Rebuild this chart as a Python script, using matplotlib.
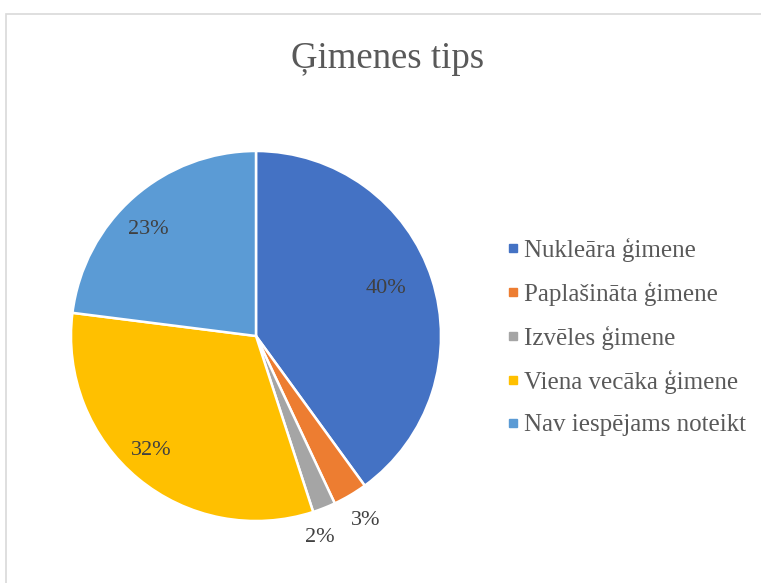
import numpy as np
import matplotlib.pyplot as plt
from matplotlib.lines import Line2D
from matplotlib.patches import Rectangle

labels = ['Nukleāra ģimene', 'Paplašināta ģimene', 'Izvēles ģimene',
          'Viena vecāka ģimene', 'Nav iespējams noteikt']
values = [40, 3, 2, 32, 23]
colors = ['#4472C4', '#ED7D31', '#A5A5A5', '#FFC000', '#5B9BD5']

plt.rcParams['font.family'] = ['Liberation Serif', 'DejaVu Serif']

fig = plt.figure(figsize=(7.61, 5.83), dpi=100)
W, H = 761, 583

# chart border (Excel-like frame, clipped by the image edge)
fig.patches.append(Rectangle((6 / W, -0.05), 1.0, 1 - 14 / H + 0.05,
                             transform=fig.transFigure, fill=False,
                             edgecolor='#d9d9d9', linewidth=1.2))

ax = fig.add_axes([71 / W, (H - 521) / H, 370 / W, 370 / H])
wedges, _ = ax.pie(values, colors=colors, startangle=90, counterclock=False,
                   radius=1, wedgeprops=dict(edgecolor='white', linewidth=1.8))
ax.set_xlim(-1, 1)
ax.set_ylim(-1, 1)
ax.set_aspect('equal')

# percentage labels: distance from centre and small angle nudge (deg)
dist = [0.75, 1.16, 1.14, 0.84, 0.82]
nudge = [2, 0, -4, -3, 4]
total = sum(values)
start = 90.0
for v, d, n in zip(values, dist, nudge):
    span = 360.0 * v / total
    mid = np.deg2rad(start - span / 2 + n)
    ax.text(d * np.cos(mid), d * np.sin(mid), f'{round(100 * v / total)}%',
            ha='center', va='center', fontsize=16, color='#404040')
    start -= span

fig.text(388 / W, 1 - 59 / H, 'Ģimenes tips', ha='center', va='center',
         fontsize=26.5, color='#595959')

handles = [Line2D([], [], marker='s', linestyle='none', markersize=5.5,
                  markerfacecolor=c, markeredgecolor=c) for c in colors]
leg = fig.legend(handles, labels, loc='center left',
                 bbox_to_anchor=(506 / W, 1 - 337 / H), frameon=False,
                 fontsize=18, labelspacing=0.8, handlelength=0.6,
                 handletextpad=0.1, borderpad=0, borderaxespad=0)
for t in leg.get_texts():
    t.set_color('#595959')

fig.savefig('out.png', dpi=100, facecolor='white')
